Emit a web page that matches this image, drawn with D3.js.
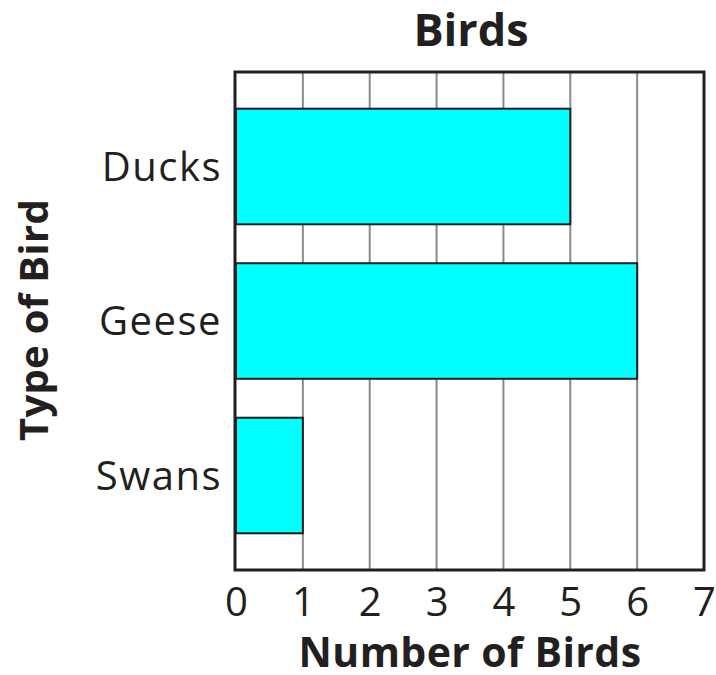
<!DOCTYPE html>
<html><head><meta charset="utf-8">
<script src="https://cdn.jsdelivr.net/npm/d3@7"></script>
<style>body{margin:0;background:#fff}svg{display:block}text{font-family:"Open Sans",sans-serif;fill:#231f20}</style>
</head><body>
<svg id="c" width="716" height="675"></svg>
<script>
const categories = ["Ducks", "Geese", "Swans"];
const values = [5, 6, 1];
const tickValues = [0, 1, 2, 3, 4, 5, 6, 7];
const title = "Birds";
const xTitle = "Number of Birds";
const yTitle = "Type of Bird";

const svg = d3.select("#c");
const L = 236, R = 704, T = 72, B = 570;
const x = d3.scaleLinear().domain([0, 7]).range([L, R]);
const y = d3.scaleBand().domain(categories).range([T, B]).paddingInner(0.252).paddingOuter(0.2375);

// grid
svg.append("g").selectAll("line").data(tickValues.slice(1, -1)).join("line")
  .attr("x1", d => x(d)).attr("x2", d => x(d)).attr("y1", T).attr("y2", B)
  .attr("stroke", "#8a8a8a").attr("stroke-width", 2);

// bars
svg.append("g").selectAll("rect").data(categories).join("rect")
  .attr("x", x(0)).attr("y", d => y(d))
  .attr("width", (d, i) => x(values[i]) - x(0)).attr("height", y.bandwidth())
  .attr("fill", "#00ffff").attr("stroke", "#231f20").attr("stroke-width", 2);

// frame
svg.append("rect").attr("x", L - 1).attr("y", T).attr("width", R - L + 1).attr("height", B - T)
  .attr("fill", "none").attr("stroke", "#231f20").attr("stroke-width", 3);

// x axis
const xAxis = d3.axisBottom(x).tickValues(tickValues).tickFormat(d3.format("d")).tickSize(0).tickPadding(0);
const gx = svg.append("g").attr("transform", `translate(0,${B})`).call(xAxis);
gx.select(".domain").remove();
gx.selectAll("text").attr("font-size", 40).attr("dy", null).attr("y", 46).style("font-family", '"Open Sans",sans-serif').attr("fill", "#231f20");

// y axis
const yAxis = d3.axisLeft(y).tickSize(0).tickPadding(0);
const gy = svg.append("g").attr("transform", `translate(222,0)`).call(yAxis);
gy.select(".domain").remove();
gy.selectAll("text").attr("font-size", 40).attr("letter-spacing", 1.5).attr("dy", "0.36em").attr("x", 0).style("font-family", '"Open Sans",sans-serif').attr("fill", "#231f20");

// titles
svg.append("text").attr("x", 471).attr("y", 46).attr("text-anchor", "middle")
  .attr("font-size", 45).attr("font-weight", "bold").text(title);
svg.append("text").attr("x", 470).attr("y", 667).attr("text-anchor", "middle")
  .attr("font-size", 41).attr("letter-spacing", 0.4).attr("font-weight", "bold").text(xTitle);
svg.append("text").attr("transform", "translate(48,320) rotate(-90)").attr("text-anchor", "middle")
  .attr("font-size", 40).attr("letter-spacing", 0.3).attr("font-weight", "bold").text(yTitle);
</script>
</body></html>
